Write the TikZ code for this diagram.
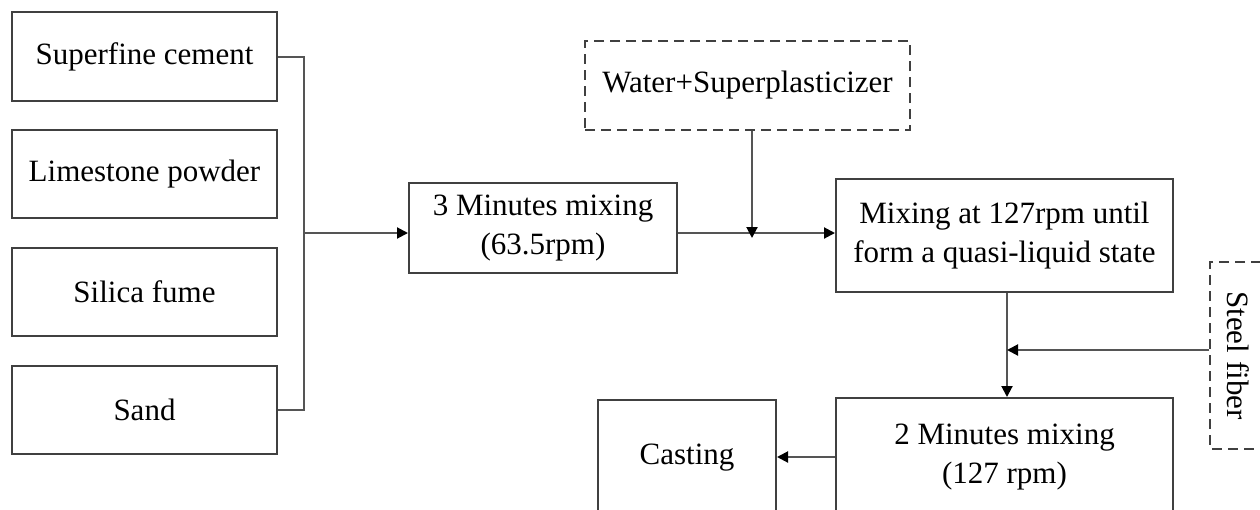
\documentclass[tikz,border=0pt]{standalone}
\usepackage{fontspec}
\setmainfont{Liberation Serif}
\usetikzlibrary{arrows.meta}
\definecolor{boxline}{HTML}{404040}
\definecolor{conline}{HTML}{555555}
\tikzset{
  box/.style={draw=boxline, line width=2pt, align=center, inner sep=0pt,
    font=\fontsize{31}{39}\selectfont, text=black},
  dbox/.style={box, dashed, dash pattern=on 10pt off 6pt},
  con/.style={draw=conline, line width=2pt},
  arr/.style={con, -{Triangle[length=11pt,width=11pt,color=black]}}
}
\begin{document}
\begin{tikzpicture}[x=1pt,y=-1pt]
\useasboundingbox (0,0) rectangle (1260,509);
\clip (0,0) rectangle (1260,509);
\fill[white] (0,0) rectangle (1260,509);
\node[box, minimum width=265pt, minimum height=89pt] (sc) at (144.5,56.5) {Superfine cement};
\node[box, minimum width=265pt, minimum height=88pt] (lp) at (144.5,174) {Limestone powder};
\node[box, minimum width=265pt, minimum height=88pt] (sf) at (144.5,292) {Silica fume};
\node[box, minimum width=265pt, minimum height=88pt] (sd) at (144.5,410) {Sand};
\node[box, minimum width=268pt, minimum height=90pt] (m3) at (543,228) {3 Minutes mixing\\(63.5rpm)};
\node[dbox, minimum width=325pt, minimum height=89pt] (ws) at (747.5,85.5) {Water+Superplasticizer};
\node[box, minimum width=337pt, minimum height=113pt] (mq) at (1004.5,235.5) {Mixing at 127rpm until\\form a quasi-liquid state};
\node[dbox, minimum width=187pt, minimum height=56pt, rotate=-90] (st) at (1238,355.5) {Steel fiber};
\node[box, minimum width=337pt, minimum height=118pt] (m2) at (1004.5,457) {2 Minutes mixing\\(127 rpm)};
\node[box, minimum width=178pt, minimum height=116pt] (ca) at (687,458) {Casting};
\coordinate (j) at (304,233);
\coordinate (w) at (752,233);
\coordinate (v) at (1007,350);
\coordinate (c) at (836,457);
\draw[con] (sc.east) -| (j);
\draw[con] (sd.east) -| (j);
\draw[arr] (j) -- (j -| m3.west);
\draw[arr] (j -| m3.east) -- (j -| mq.west);
\draw[arr] (w |- ws.south) -- ([yshift=-5pt]w);
\draw[arr] (v |- mq.south) -- (v |- m2.north);
\draw[arr] (st.south |- v) -- (v);
\draw[arr] (c -| m2.west) -- (c -| ca.east);
\end{tikzpicture}
\end{document}
